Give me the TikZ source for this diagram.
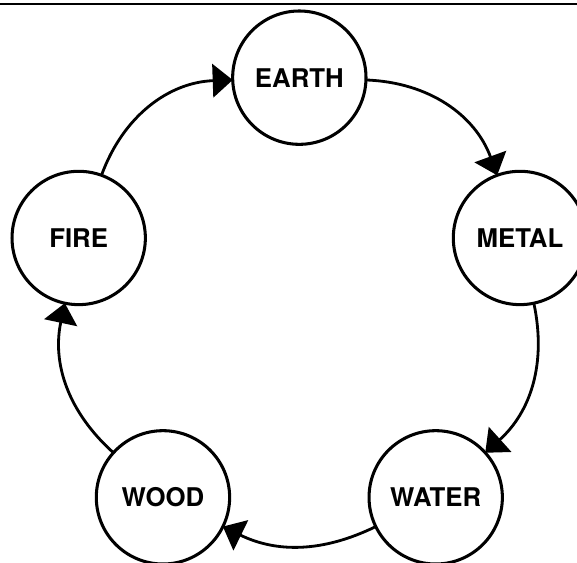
\documentclass[tikz,border=0pt]{standalone}
\usepackage{fontspec}
\setmainfont{TeX Gyre Heros}
\usetikzlibrary{arrows.meta}

\begin{document}
\begin{tikzpicture}[
        element/.style={draw, circle, line width=2.6pt, minimum size=4cm, inner sep=0pt, outer sep=0pt, fill=white, font=\fontsize{22}{25}\selectfont\bfseries},
        cycle/.style={-{Triangle[length=0.6cm, width=1cm]}, line width=2.4pt, bend left=30}
    ]
        \useasboundingbox (0,0) rectangle (17.31,16.89);
        % Regua no topo
        \draw[line width=1.5pt] (0,16.77) -- (17.31,16.77);

        % Elementos em pentagono
        \coordinate (c) at (8.98,7.6);
        \node[element] (earth) at ([shift={(90:6.96)}]c) {EARTH};
        \node[element] (metal) at ([shift={(18:6.96)}]c) {METAL};
        \node[element] (water) at ([shift={(-54:6.96)}]c) {WATER};
        \node[element] (wood) at ([shift={(-126:6.96)}]c) {WOOD};
        \node[element] (fire) at ([shift={(162:6.96)}]c) {FIRE};

        % Setas do ciclo
        \draw[cycle, bend left=34] (earth) to (metal);
        \draw[cycle] (metal) to (water);
        \draw[cycle, bend left=26] (water) to (wood);
        \draw[cycle] (wood) to (fire);
        \draw[cycle, bend left=34] (fire) to (earth);
    \end{tikzpicture}
\end{document}
